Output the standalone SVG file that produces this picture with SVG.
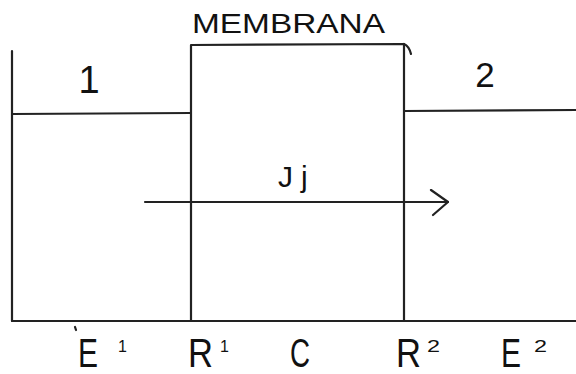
<svg xmlns="http://www.w3.org/2000/svg" width="576" height="374" viewBox="0 0 576 374">
<defs>
<style>
.ln{stroke:#222;stroke-width:2.2;fill:none;stroke-linecap:round}
.t{font-family:"Liberation Sans",Arial,sans-serif;fill:#111}
.big{font-size:40px}
.sup{font-size:16px}
</style>
<marker id="open" markerWidth="20" markerHeight="30" refX="19" refY="13" orient="auto" markerUnits="userSpaceOnUse">
<path d="M2,1 L19,13 L4,26" fill="none" stroke="#222" stroke-width="2.2" stroke-linecap="round"/>
</marker>
</defs>
<rect width="576" height="374" fill="#fff"/>
<g id="compartment1">
<path class="ln" d="M12,51 L12,321"/>
<path class="ln" d="M12,114 L191,113"/>
<text class="t" x="89" y="93" font-size="38" text-anchor="middle">1</text>
</g>
<g id="membrana">
<path class="ln" d="M191,45 L191,321 M191,45 L404,44 M404,44 L404,321"/>
<path class="ln" d="M404,44 Q409,46 411,54"/>
<text class="t" x="192" y="33" font-size="28" textLength="193" lengthAdjust="spacingAndGlyphs">MEMBRANA</text>
</g>
<g id="compartment2">
<path class="ln" d="M404,111 L576,110"/>
<text class="t" x="485" y="87" font-size="35" text-anchor="middle">2</text>
</g>
<g id="base">
<path class="ln" d="M12,321 L576,321"/>
<path class="ln" d="M75,327 L76,330" stroke-width="1.4"/>
</g>
<g id="connectors">
<path class="ln" d="M145,202 L448,202" marker-end="url(#open)"/>
<text class="t" x="278" y="187" font-size="30" letter-spacing="8">Jj</text>
</g>
<g id="labels">
<text class="t big" x="78" y="367" textLength="20" lengthAdjust="spacingAndGlyphs">E</text>
<text class="t sup" x="118" y="352">1</text>
<text class="t big" x="188" y="367" textLength="25" lengthAdjust="spacingAndGlyphs">R</text>
<text class="t sup" x="220" y="352">1</text>
<text class="t big" x="290" y="367" textLength="20" lengthAdjust="spacingAndGlyphs">C</text>
<text class="t big" x="396" y="367" textLength="25" lengthAdjust="spacingAndGlyphs">R</text>
<text class="t sup" x="427" y="352" textLength="13" lengthAdjust="spacingAndGlyphs">2</text>
<text class="t big" x="501" y="367" textLength="20" lengthAdjust="spacingAndGlyphs">E</text>
<text class="t sup" x="534" y="352" textLength="13" lengthAdjust="spacingAndGlyphs">2</text>
</g>
</svg>
